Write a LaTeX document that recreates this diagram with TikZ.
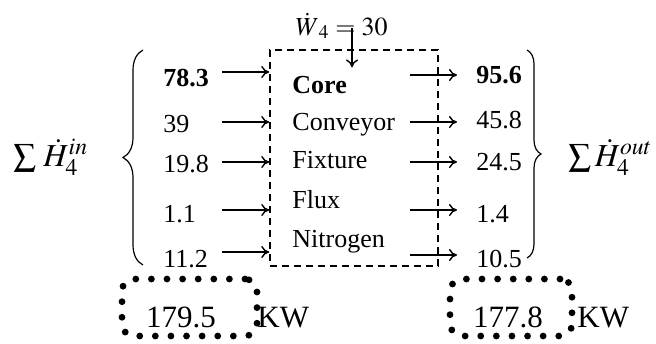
\documentclass[tikz,border=0pt]{standalone}
\usepackage{mathptmx}
\usepackage{fontspec}
\setmainfont{Liberation Serif}
\usetikzlibrary{arrows.meta,positioning,decorations.pathreplacing}

\begin{document}
\begin{tikzpicture}[
  x=0.5pt, y=-0.5pt,
  font=\fontsize{13}{15}\selectfont,
  val/.style={anchor=base west, inner sep=0pt},
  big/.style={inner sep=0pt, font=\fontsize{15.5}{18}\selectfont},
  sumlbl/.style={anchor=base west, inner sep=0pt, font=\fontsize{16}{19}\selectfont},
  arr/.style={-{To[length=4pt,width=6pt]}, line width=0.7pt},
  cv/.style={draw, line width=0.75pt, dash pattern=on 3.5pt off 2.5pt, inner sep=0pt},
  dotbox/.style={draw, line width=3.4pt, line cap=round, dash pattern=on 0pt off 7.8pt,
    rounded corners=6pt, minimum height=28.5pt, inner sep=0pt},
  brc/.style={decorate, line width=0.6pt}
]
\useasboundingbox (0,0) rectangle (656,343);

% control volume
\node[cv, minimum width=84pt, minimum height=108pt] (cv) at (354,158) {};

% inflows
\node[val] (in1) at (163,86) {\bfseries 78.3};
\node[val] (in2) at (163,132) {39};
\node[val] (in3) at (163,172) {19.8};
\node[val] (in4) at (163,222) {1.1};
\node[val] (in5) at (163,267) {11.2};

% streams
\node[val] (it1) at (292,93) {\bfseries Core};
\node[val] (it2) at (292,130) {Conveyor};
\node[val] (it3) at (292,168) {Fixture};
\node[val] (it4) at (292,208) {Flux};
\node[val] (it5) at (292,247) {Nitrogen};

% outflows
\node[val] (out1) at (476,83) {\bfseries 95.6};
\node[val] (out2) at (476,128) {45.8};
\node[val] (out3) at (476,170) {24.5};
\node[val] (out4) at (476,222) {1.4};
\node[val] (out5) at (476,267) {10.5};

\foreach \i/\y in {1/72,2/122,3/162,4/210,5/252} {
  \coordinate (s\i) at (222,\y);
  \draw[arr] (s\i) -- (s\i -| cv.west);
}
\foreach \i/\y in {1/75,2/122,3/162,4/210,5/255} {
  \coordinate (t\i) at (410,\y);
  \draw[arr, shorten >=9.5pt] (t\i) -- (t\i -| out\i.west);
}

% work input
\node[anchor=base east, inner sep=0pt] (work) at (388,35)
  {$\dot{W}_{\hspace{2pt}4}\hspace{3pt}{=}\hspace{3pt}30$};
\coordinate (wtop) at (352,28);
\draw[arr, shorten >=4pt] (wtop) -- (wtop |- it1.north);

% sums
\draw[brc, decoration={brace, amplitude=10pt}] (143,265) -- (143,50);
\draw[brc, decoration={brace, amplitude=7pt}] (527,50) -- (527,258);
\node[sumlbl] (hin) at (13,166) {$\sum\,\dot{H}_4^{in}$};
\node[sumlbl] (hout) at (568,166) {$\sum\dot{H}_4^{out}$};

% totals
\node[dotbox, minimum width=67.5pt] (totin) at (189.5,307.5) {};
\node[big, anchor=base] (vin) at (181,327) {179.5};
\node[big, anchor=base west] (kwin) at (257,327) {KW};
\node[dotbox, minimum width=61pt] (totout) at (511,307.5) {};
\node[big, anchor=base] (vout) at (508,327) {177.8};
\node[big, anchor=base west] (kwout) at (577,327) {KW};
\end{tikzpicture}
\end{document}
